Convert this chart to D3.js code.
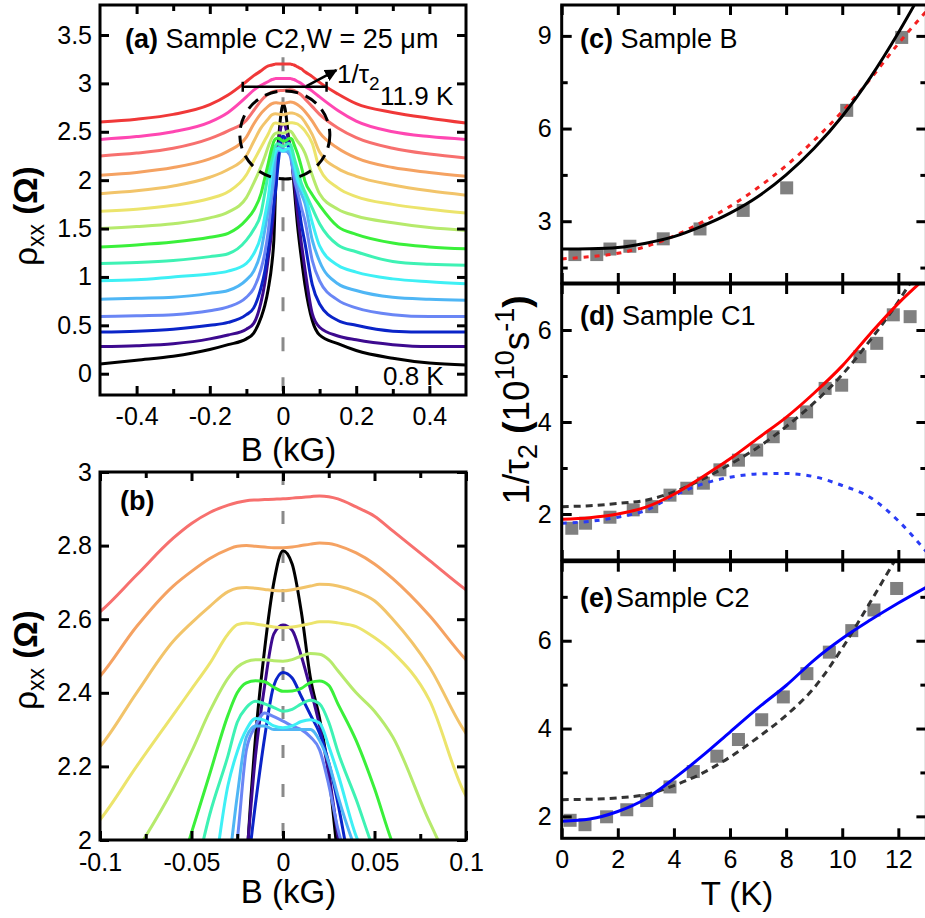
<!DOCTYPE html>
<html>
<head>
<meta charset="utf-8">
<script src="https://cdn.jsdelivr.net/npm/d3@7"></script>
<style>
  html, body { margin: 0; padding: 0; background: #fff; }
  svg { display: block; }
</style>
</head>
<body>
<svg id="fig" width="925" height="918"></svg>
<script>
// ---------------- magnetoresistance traces, panels (a) and (b) ----------------
const fieldB = [-0.5,-0.4,-0.3,-0.2,-0.15,-0.1,-0.08,-0.06,-0.05,-0.04,-0.03,-0.025,-0.02,-0.015,-0.01,-0.005,
                0,0.005,0.01,0.015,0.02,0.025,0.03,0.04,0.05,0.06,0.08,0.1,0.15,0.2,0.3,0.4,0.5];

const rhoBlack      = [0.10,0.14,0.18,0.25,0.30,0.36,0.42,0.58,0.70,0.88,1.15,1.38,1.92,2.28,2.52,2.70,2.786,2.75,2.62,2.44,2.33,2.18,1.95,1.52,1.20,0.92,0.55,0.40,0.31,0.24,0.16,0.11,0.09];
const rhoPurple     = [0.28,0.29,0.31,0.36,0.40,0.46,0.52,0.74,0.93,1.20,1.50,1.70,1.95,2.23,2.42,2.56,2.584,2.57,2.50,2.41,2.31,2.18,2.01,1.65,1.35,1.08,0.62,0.48,0.39,0.35,0.30,0.28,0.28];
const rhoBlue       = [0.43,0.44,0.46,0.50,0.53,0.61,0.68,0.89,1.05,1.30,1.60,1.76,1.90,2.10,2.28,2.42,2.455,2.44,2.39,2.34,2.29,2.21,2.10,1.82,1.55,1.35,0.92,0.72,0.55,0.50,0.44,0.43,0.43];
const rhoPeriwinkle = [0.59,0.60,0.61,0.65,0.69,0.79,0.88,1.08,1.24,1.48,1.85,2.00,2.245,2.31,2.345,2.335,2.323,2.31,2.30,2.28,2.245,2.15,2.03,1.88,1.72,1.58,1.17,0.96,0.76,0.68,0.61,0.59,0.59];
const rhoLightBlue  = [0.77,0.78,0.79,0.83,0.86,0.97,1.06,1.27,1.48,1.70,1.92,2.12,2.28,2.31,2.31,2.30,2.30,2.30,2.30,2.30,2.27,2.21,2.12,1.97,1.86,1.76,1.38,1.16,0.93,0.86,0.79,0.77,0.76];
const rhoCyan       = [0.96,0.97,1.00,1.03,1.06,1.14,1.24,1.43,1.62,1.83,2.15,2.24,2.30,2.33,2.325,2.31,2.305,2.31,2.322,2.327,2.318,2.255,2.18,2.01,1.92,1.84,1.56,1.32,1.12,1.05,0.98,0.95,0.93];
const rhoAqua       = [1.14,1.15,1.17,1.21,1.24,1.38,1.49,1.66,1.86,2.07,2.23,2.32,2.36,2.377,2.37,2.36,2.35,2.355,2.37,2.38,2.37,2.32,2.24,2.11,1.97,1.88,1.71,1.55,1.33,1.26,1.16,1.13,1.12];
const rhoGreen      = [1.31,1.33,1.36,1.41,1.45,1.59,1.69,1.86,2.02,2.18,2.34,2.40,2.427,2.433,2.43,2.415,2.404,2.405,2.412,2.428,2.432,2.42,2.37,2.27,2.14,1.99,1.85,1.74,1.52,1.44,1.35,1.31,1.29];
const rhoLightGreen = [1.50,1.52,1.55,1.61,1.67,1.82,1.97,2.14,2.24,2.35,2.44,2.47,2.485,2.49,2.49,2.487,2.486,2.49,2.50,2.507,2.505,2.49,2.46,2.40,2.35,2.28,2.05,1.86,1.70,1.63,1.56,1.51,1.48];
const rhoYellow     = [1.68,1.70,1.74,1.81,1.88,2.055,2.20,2.34,2.41,2.48,2.56,2.585,2.59,2.587,2.583,2.579,2.577,2.579,2.583,2.588,2.593,2.593,2.59,2.58,2.55,2.51,2.38,2.12,1.92,1.83,1.75,1.70,1.66];
const rhoTan        = [1.86,1.89,1.94,2.03,2.11,2.254,2.40,2.54,2.59,2.635,2.675,2.684,2.686,2.684,2.681,2.678,2.677,2.68,2.685,2.69,2.695,2.694,2.69,2.675,2.65,2.60,2.47,2.29,2.12,2.04,1.95,1.89,1.845];
const rhoOrange     = [2.05,2.08,2.13,2.22,2.30,2.445,2.58,2.69,2.73,2.765,2.79,2.798,2.80,2.798,2.796,2.794,2.794,2.796,2.80,2.804,2.807,2.806,2.80,2.78,2.75,2.71,2.61,2.49,2.33,2.23,2.13,2.08,2.04];
const rhoSalmon     = [2.25,2.28,2.33,2.43,2.51,2.62,2.72,2.82,2.86,2.89,2.91,2.917,2.922,2.924,2.925,2.926,2.927,2.929,2.931,2.933,2.935,2.933,2.927,2.905,2.88,2.84,2.76,2.68,2.54,2.44,2.33,2.27,2.23];
const rhoPink       = [2.42,2.45,2.50,2.60,2.70,2.86,2.93,2.98,3.00,3.02,3.04,3.045,3.05,3.05,3.05,3.05,3.05,3.05,3.05,3.05,3.05,3.045,3.04,3.02,3.00,2.97,2.92,2.86,2.72,2.61,2.50,2.45,2.42];
const rhoRed        = [2.60,2.63,2.68,2.78,2.88,3.02,3.08,3.13,3.16,3.18,3.19,3.195,3.20,3.20,3.20,3.20,3.20,3.20,3.20,3.20,3.20,3.195,3.19,3.17,3.15,3.12,3.07,3.01,2.89,2.79,2.70,2.64,2.59];

// lowest temperature first
const traceValues = [rhoBlack, rhoPurple, rhoBlue, rhoPeriwinkle, rhoLightBlue, rhoCyan, rhoAqua, rhoGreen,
                     rhoLightGreen, rhoYellow, rhoTan, rhoOrange, rhoSalmon, rhoPink, rhoRed];
const traceColors = ["#000000","#3d0a8f","#0a24c8","#6a86f5","#4fb6f5","#3ef0f5","#3ef2b4","#3af03a",
                     "#b6ea6c","#ece46c","#f2c46a","#f5a262","#f7706e","#ff47b2","#f03838"];
const tracesInZoom = 13;   // the two warmest traces stay above the zoom window

// tick values
const aTicksB = [-0.4,-0.2,0,0.2,0.4], aMinorB = [-0.3,-0.1,0.1,0.3];
const aTicksRho = [0,0.5,1,1.5,2,2.5,3,3.5];
const bTicksB = [-0.1,-0.05,0,0.05,0.1], bMinorB = [-0.075,-0.025,0.025,0.075];
const bTicksRho = [2,2.2,2.4,2.6,2.8,3];

// ---------------- dephasing rate vs temperature, panels (c)-(e) ----------------
const sampleB_T    = [0.47,1.25,1.72,2.43,3.62,4.93,6.47,8.02,10.16,12.12];
const sampleB_rate = [1.92,1.92,2.10,2.19,2.43,2.75,3.35,4.08,6.59,8.95];
const fitB_T       = [0,1,2,3,4,5,6,7,8,9,10,11,12,12.6];
const fitB_solid   = [2.10,2.11,2.15,2.29,2.50,2.84,3.26,3.80,4.50,5.36,6.40,7.65,9.10,10.05];
const fitB_dot_T   = [0,1,2,3,4,5,6,7,8,9,10,11,12,13];
const fitB_dot     = [1.78,1.85,1.96,2.18,2.52,2.97,3.48,4.09,4.80,5.62,6.55,7.60,8.75,9.80];

const sampleC1_T    = [0.36,0.85,1.72,2.55,3.21,3.86,4.46,5.05,5.64,6.30,6.95,7.54,8.14,8.73,9.39,9.98,10.63,11.23,11.82,12.42];
const sampleC1_rate = [1.69,1.80,1.93,2.09,2.16,2.41,2.56,2.67,2.96,3.17,3.39,3.68,3.97,4.22,4.73,4.80,5.42,5.71,6.33,6.29];
const fitC1_T       = [0,1,2,3,4,5,6,7,8,9,10,11,12,13];
const fitC1_total   = [1.885,1.92,2.00,2.15,2.43,2.80,3.20,3.65,4.10,4.63,5.22,5.92,6.58,7.15];
const fitC1_dash_T  = [0,1,2,3,4,5,6,7,8,9,10,11,12,12.45];
const fitC1_dash    = [2.16,2.18,2.23,2.30,2.48,2.75,3.08,3.45,3.90,4.42,5.03,5.78,6.62,7.05];
const fitC1_part    = [1.80,1.84,1.93,2.08,2.40,2.65,2.80,2.87,2.88,2.81,2.62,2.36,1.85,1.18];

const sampleC2_T    = [0.3,0.83,1.6,2.32,3.03,3.86,4.69,5.53,6.30,7.13,7.9,8.74,9.54,10.34,11.13,11.94];
const sampleC2_rate = [1.91,1.81,1.99,2.15,2.36,2.67,3.02,3.37,3.75,4.20,4.72,5.25,5.74,6.23,6.70,7.19];
const fitC2_T       = [0,1,2,3,4,5,6,7,8,9,10,11,12,13];
const fitC2_solid   = [1.89,1.94,2.11,2.40,2.86,3.37,3.92,4.47,4.98,5.56,6.05,6.47,6.86,7.22];
const fitC2_dash_T  = [0,1,2,3,4,5,6,7,8,9,10,11,11.85];
const fitC2_dash    = [2.38,2.39,2.42,2.50,2.70,2.98,3.35,3.80,4.30,4.93,5.83,6.88,7.80];

const tTicks = [0,2,4,6,8,10,12];
const cTicks = [3,6,9], cMinor = [1.5,4.5,7.5];
const dTicks = [2,4,6], dMinor = [3,5];
const eTicks = [2,4,6], eMinor = [3,5,7];

// ---------------- drawing ----------------
const FONT = "'Liberation Sans', Arial, Helvetica, sans-serif";
const svg = d3.select("#fig");
const defs = svg.append("defs");
const zip = (xs, ys) => xs.map((v, i) => [v, ys[i]]);
const fmt = d => String(d);

const xA = d3.scaleLinear().domain([-0.5, 0.5]).range([100, 466]);
const yA = d3.scaleLinear().domain([-0.22, 3.81]).range([395, 5]);
const xB = d3.scaleLinear().domain([-0.1, 0.1]).range([100, 466]);
const yB = d3.scaleLinear().domain([2, 3]).range([840, 472]);
const xT = d3.scaleLinear().domain([0, 13]).range([561.7, 926.4]);
const yC = d3.scaleLinear().domain([1, 10]).range([283, 5]);
const yD = d3.scaleLinear().domain([1, 7]).range([560, 284]);
const yE = d3.scaleLinear().domain([1.5, 7.8]).range([838.3, 561.7]);

function clipFor(id, x, y) {
  const [x0, x1] = x.range(), [y0, y1] = y.range();
  defs.append("clipPath").attr("id", id).append("rect")
    .attr("x", x0).attr("y", y1).attr("width", x1 - x0).attr("height", y0 - y1);
  return `url(#${id})`;
}

function styleAxis(sel) {
  sel.select(".domain").remove();
  sel.attr("font-family", FONT).attr("font-size", 25);
  sel.selectAll(".tick line").attr("stroke", "#000").attr("stroke-width", 3);
  sel.selectAll(".tick text").attr("fill", "#000");
}

function axes(x, y, o) {
  const g = svg.append("g");
  const [x0, x1] = x.range(), [y0, y1] = y.range();
  const none = () => "";
  const sides = [
    [d3.axisBottom, "translate(0," + y0 + ")", x, o.xMajor, o.xMinor, o.xLabels],
    [d3.axisTop,    "translate(0," + y1 + ")", x, o.xMajor, o.xMinor, false],
    [d3.axisLeft,   "translate(" + x0 + ",0)", y, o.yMajor, o.yMinor, true],
    [d3.axisRight,  "translate(" + x1 + ",0)", y, o.yMajor, o.yMinor, false]
  ];
  sides.forEach(([ax, tr, sc, major, minor, lab], i) => {
    const pad = i === 0 ? (o.xPad || 12) : (o.yPad || 8);
    g.append("g").attr("transform", tr)
      .call(ax(sc).tickValues(major).tickSizeInner(-(o.major || 9)).tickSizeOuter(0)
        .tickPadding(pad).tickFormat(lab ? fmt : none))
      .call(styleAxis);
    if (minor && minor.length) {
      g.append("g").attr("transform", tr)
        .call(ax(sc).tickValues(minor).tickSizeInner(-6).tickSizeOuter(0).tickFormat(none))
        .call(styleAxis);
    }
  });
  g.append("rect").attr("x", x0).attr("y", y1).attr("width", x1 - x0).attr("height", y0 - y1)
    .attr("fill", "none").attr("stroke", "#000").attr("stroke-width", 3);
}

function label(x, y, parts, opts = {}) {
  const t = svg.append("text").attr("x", x).attr("y", y)
    .attr("font-family", FONT).attr("font-size", opts.size || 27).attr("fill", "#000")
    .attr("text-anchor", opts.anchor || "start");
  parts.forEach(p => {
    const s = t.append("tspan").text(p.t);
    if (p.bold) s.attr("font-weight", "bold");
    if (p.size) s.attr("font-size", p.size);
    if (p.dy) s.attr("dy", p.dy);
    if (p.dx) s.attr("dx", p.dx);
  });
  return t;
}

// ----- panel (a)
const clipA = clipFor("clipA", xA, yA);
const gA = svg.append("g").attr("clip-path", clipA);
gA.append("line")
  .attr("x1", xA(0)).attr("x2", xA(0)).attr("y1", yA(3.27)).attr("y2", yA(-0.22))
  .attr("stroke", "#8a8a8a").attr("stroke-width", 3).attr("stroke-dasharray", "14,26");
const lineA = d3.line().x(d => xA(d[0])).y(d => yA(d[1])).curve(d3.curveMonotoneX);
traceValues.forEach((vals, i) => {
  gA.append("path").attr("d", lineA(zip(fieldB, vals)))
    .attr("fill", "none").attr("stroke", traceColors[i]).attr("stroke-width", 3)
    .attr("stroke-linejoin", "round");
});
// dashed circle around the central cusp, width bar and arrow
const ringCenter = [0.005, 2.467], ringRadius = [0.123, 0.455];
gA.append("ellipse")
  .attr("cx", xA(ringCenter[0])).attr("cy", yA(ringCenter[1]))
  .attr("rx", xA(ringCenter[0] + ringRadius[0]) - xA(ringCenter[0]))
  .attr("ry", yA(ringCenter[1] - ringRadius[1]) - yA(ringCenter[1]))
  .attr("fill", "none").attr("stroke", "#000").attr("stroke-width", 3).attr("stroke-dasharray", "13,8");
const widthBar = [-0.11, 0.119], widthLevel = 2.965;
gA.append("line").attr("x1", xA(widthBar[0])).attr("x2", xA(widthBar[1]))
  .attr("y1", yA(widthLevel)).attr("y2", yA(widthLevel)).attr("stroke", "#000").attr("stroke-width", 2.5);
widthBar.forEach(b => gA.append("line").attr("x1", xA(b)).attr("x2", xA(b))
  .attr("y1", yA(widthLevel) - 5).attr("y2", yA(widthLevel) + 5).attr("stroke", "#000").attr("stroke-width", 2.5));
defs.append("marker").attr("id", "head").attr("viewBox", "0 0 10 10").attr("refX", 9).attr("refY", 5)
  .attr("markerWidth", 5).attr("markerHeight", 5).attr("orient", "auto")
  .append("path").attr("d", "M0,0L10,5L0,10z").attr("fill", "#000");
const arrowFrom = [0.064, 2.972], arrowTo = [0.146, 3.137];
gA.append("line").attr("x1", xA(arrowFrom[0])).attr("y1", yA(arrowFrom[1]))
  .attr("x2", xA(arrowTo[0])).attr("y2", yA(arrowTo[1]))
  .attr("stroke", "#000").attr("stroke-width", 2.5).attr("marker-end", "url(#head)");

axes(xA, yA, { xMajor: aTicksB, xMinor: aMinorB, yMajor: aTicksRho, yMinor: [], xLabels: true, yPad: 8 });
label(125, 48, [{ t: "(a)", bold: true }, { t: " Sample C2,W = 25 μm" }]);
label(337, 83, [{ t: "1/τ" }, { t: "2", size: 19, dy: 7 }], { size: 26 });
label(380, 105, [{ t: "11.9 K" }], { size: 26 });
label(383, 385, [{ t: "0.8 K" }], { size: 26 });
label(288.5, 461, [{ t: "B (kG)" }], { size: 33, anchor: "middle" });
label(0, 0, [{ t: "ρ" }, { t: "xx", size: 23, dy: 7 }, { t: " ", dy: -7 }, { t: "(Ω)", bold: true }], { size: 33, anchor: "middle" })
  .attr("transform", "translate(37,216) rotate(-90)").attr("x", null).attr("y", null);

// ----- panel (b)
const clipB = clipFor("clipB", xB, yB);
const gB = svg.append("g").attr("clip-path", clipB);
gB.append("line")
  .attr("x1", xB(0)).attr("x2", xB(0)).attr("y1", yB(3)).attr("y2", yB(2))
  .attr("stroke", "#8a8a8a").attr("stroke-width", 3).attr("stroke-dasharray", "13,26");
const lineB = d3.line().x(d => xB(d[0])).y(d => yB(d[1])).curve(d3.curveMonotoneX);
traceValues.slice(0, tracesInZoom).forEach((vals, i) => {
  gB.append("path").attr("d", lineB(zip(fieldB, vals)))
    .attr("fill", "none").attr("stroke", traceColors[i]).attr("stroke-width", 3)
    .attr("stroke-linejoin", "round");
});
axes(xB, yB, { xMajor: bTicksB, xMinor: bMinorB, yMajor: bTicksRho, yMinor: [], xLabels: true, yPad: 8, xPad: 13 });
label(120, 510, [{ t: "(b)", bold: true }]);
label(288.5, 903, [{ t: "B (kG)" }], { size: 33, anchor: "middle" });
label(0, 0, [{ t: "ρ" }, { t: "xx", size: 23, dy: 7 }, { t: " ", dy: -7 }, { t: "(Ω)", bold: true }], { size: 33, anchor: "middle" })
  .attr("transform", "translate(37,660) rotate(-90)").attr("x", null).attr("y", null);

// ----- panels (c), (d), (e)
function ratePanel(id, y, pts, fits, ticks, minor, showX) {
  const g = svg.append("g").attr("clip-path", clipFor(id, xT, y));
  const ln = d3.line().x(d => xT(d[0])).y(d => y(d[1])).curve(d3.curveMonotoneX);
  g.selectAll("rect.pt").data(zip(pts[0], pts[1])).join("rect")
    .attr("x", d => xT(d[0]) - 6.5).attr("y", d => y(d[1]) - 6.5)
    .attr("width", 13).attr("height", 13).attr("fill", "#808080");
  fits.forEach(f => {
    g.append("path").attr("d", ln(zip(f.T, f.v))).attr("fill", "none")
      .attr("stroke", f.color).attr("stroke-width", 3).attr("stroke-dasharray", f.dash || null);
  });
  axes(xT, y, { xMajor: tTicks, xMinor: [], yMajor: ticks, yMinor: minor, xLabels: showX, yPad: 10, major: 10 });
}
ratePanel("clipC", yC, [sampleB_T, sampleB_rate], [
  { T: fitB_dot_T, v: fitB_dot, color: "#f42020", dash: "5,6" },
  { T: fitB_T, v: fitB_solid, color: "#000" }
], cTicks, cMinor, false);
ratePanel("clipD", yD, [sampleC1_T, sampleC1_rate], [
  { T: fitC1_T, v: fitC1_part, color: "#2a3cf5", dash: "5,6" },
  { T: fitC1_dash_T, v: fitC1_dash, color: "#333", dash: "7,5" },
  { T: fitC1_T, v: fitC1_total, color: "#ff0000" }
], dTicks, dMinor, false);
ratePanel("clipE", yE, [sampleC2_T, sampleC2_rate], [
  { T: fitC2_dash_T, v: fitC2_dash, color: "#333", dash: "7,5" },
  { T: fitC2_T, v: fitC2_solid, color: "#0000ff" }
], eTicks, eMinor, true);

label(580, 48, [{ t: "(c)", bold: true }, { t: " Sample B" }]);
label(580, 325, [{ t: "(d)", bold: true }, { t: " Sample C1" }]);
label(580, 607, [{ t: "(e)", bold: true }, { t: "Sample C2", dx: 3 }]);
label(737, 905, [{ t: "T (K)" }], { size: 33, anchor: "middle" });
label(0, 0, [
  { t: "1/τ" }, { t: "2", size: 27, dy: 8 }, { t: " ", dy: -8 }, { t: "(", bold: true },
  { t: "10" }, { t: "10", size: 27, dy: -15 }, { t: "s", dy: 15 }, { t: "-1", size: 27, dy: -15 },
  { t: ")", bold: true, dy: 15 }
], { size: 37, anchor: "middle" })
  .attr("transform", "translate(529,400) rotate(-90)").attr("x", null).attr("y", null);
</script>
</body>
</html>
